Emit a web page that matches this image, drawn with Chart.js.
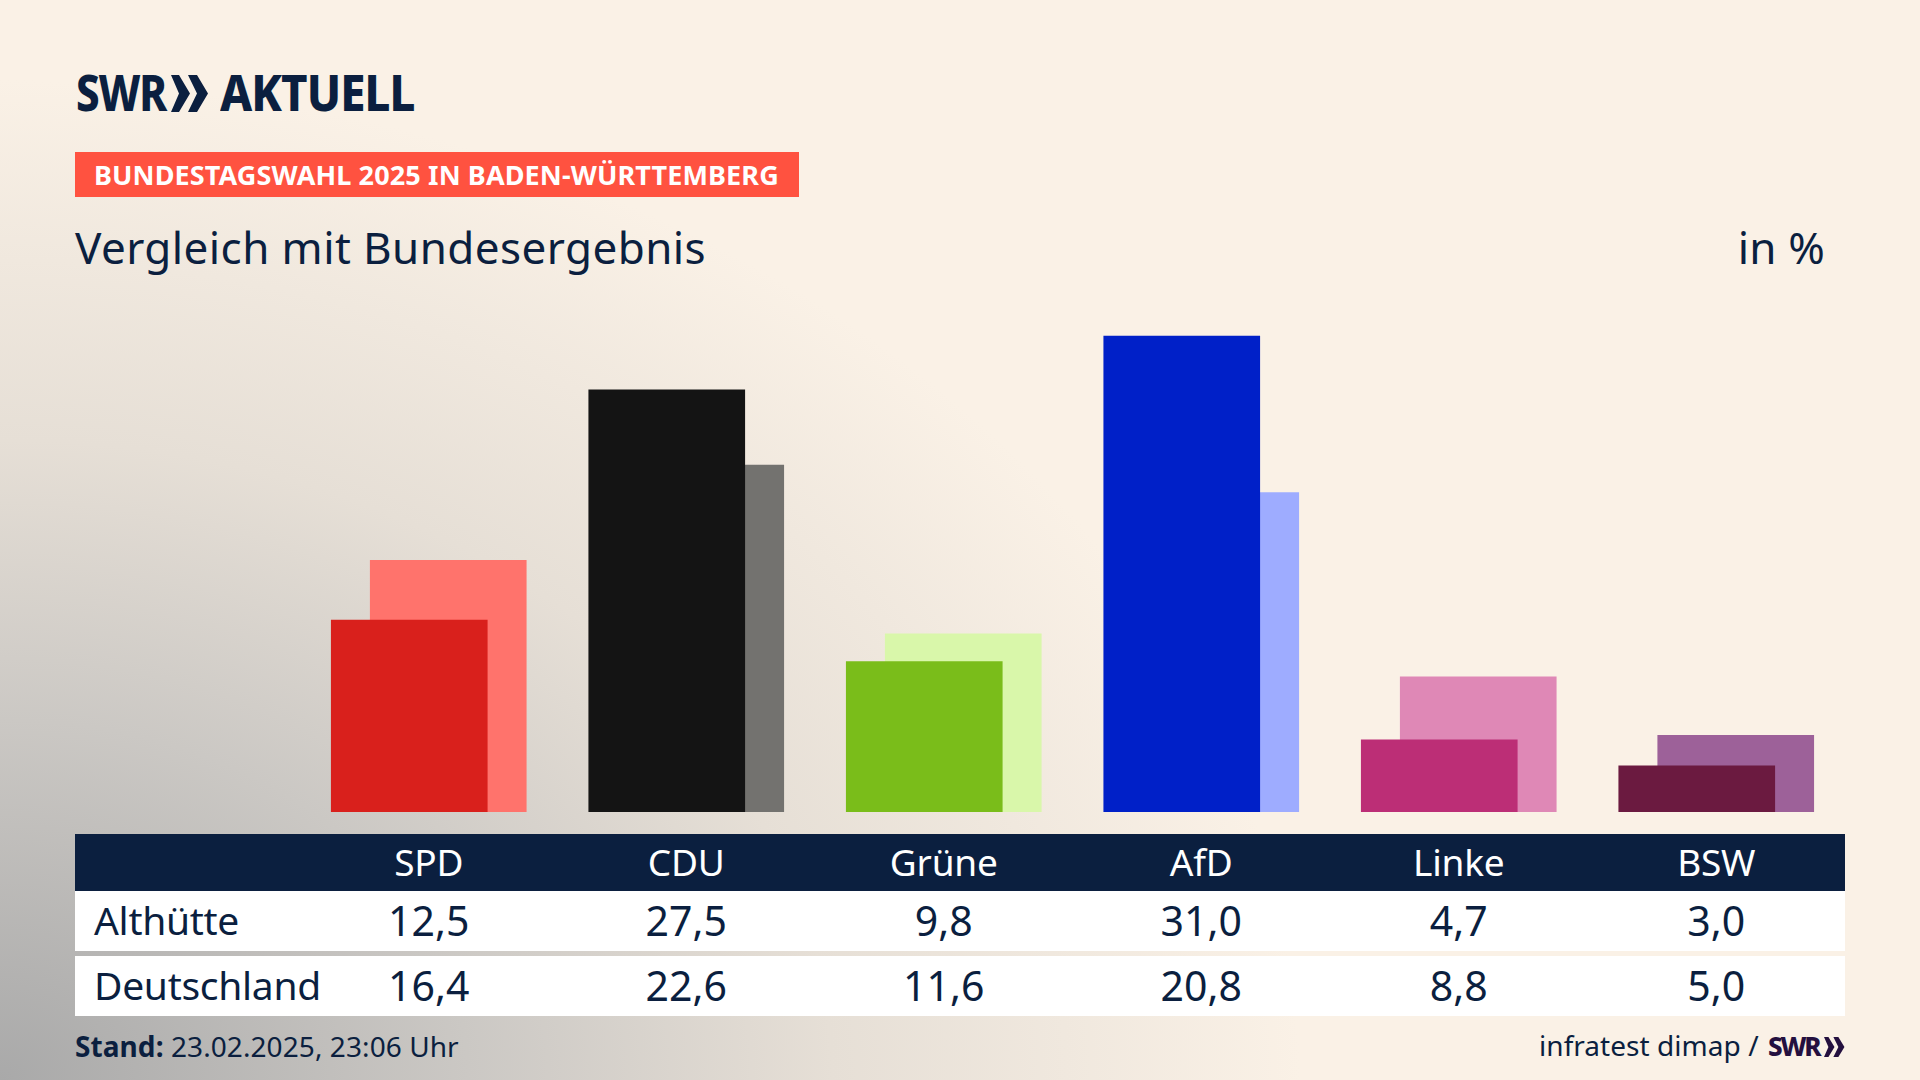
<!DOCTYPE html>
<html lang="de">
<head>
<meta charset="utf-8">
<title>Vergleich mit Bundesergebnis</title>
<script src="https://cdn.jsdelivr.net/npm/chart.js@4"></script>
<style>
    html, body { margin: 0; padding: 0; }
    body {
        width: 1920px; height: 1080px; overflow: hidden; position: relative;
        font-family: "Noto Sans", sans-serif; color: #0b1f3f;
        background-color: #faf1e6;
        background-image: radial-gradient(ellipse 1300px 1000px at 0 100%, #a9a9a9 0%, #cbc8c4 36%, #e6dfd6 64%, #faf1e6 100%);
    }
    .abs { position: absolute; white-space: nowrap; }
    #logo { left: 76px; top: 60px; font-size: 50px; line-height: 64px; font-weight: 800; letter-spacing: -1.5px;
            transform: scaleX(0.84); transform-origin: left; }
    #chev { left: 171px; top: 75px; }
    #logo2 { left: 220px; top: 60px; font-size: 50px; line-height: 64px; font-weight: 800; letter-spacing: -1px;
             transform: scaleX(0.91); transform-origin: left; }
    #tag { left: 75px; top: 152px; width: 724px; height: 45px; background: #ff5240; color: #fff;
           font-size: 27px; line-height: 45px; font-weight: 700; text-indent: 19px; letter-spacing: 0.12px; }
    #title { left: 75px; top: 217px; font-size: 44px; line-height: 60px; letter-spacing: 0.42px; }
    #unit { right: 95px; top: 217px; font-size: 44px; line-height: 60px; letter-spacing: 0.2px; }
    #chartBox { position: absolute; left: 300px; top: 300px; width: 1545px; height: 512px; }
    .row { position: absolute; left: 75px; width: 1770px; display: grid;
           grid-template-columns: 225px repeat(6, 257.5px); align-items: center; }
    .row div { text-align: center; white-space: nowrap; }
    .row div.name { text-align: left; padding-left: 19px; font-size: 39px; letter-spacing: -0.3px; }
    #head { top: 834px; height: 55px; padding-bottom: 2px; background: #0b1f3f; color: #fff; font-size: 37px; letter-spacing: -0.2px; }
    .val { height: 57px; padding-bottom: 3px; background: #fff; font-size: 41px; letter-spacing: 0.1px; }
    #foot { left: 75px; top: 1026px; font-size: 28px; line-height: 40px; letter-spacing: 0.08px; }
    #src { left: 1539px; top: 1025px; font-size: 28px; line-height: 40px; letter-spacing: 0.05px; }
    #src b { color: #24103f; font-size: 26px; font-weight: 800; letter-spacing: -2.2px; margin-left: 2px; }
    #srcChev { left: 1824px; top: 1037px; }
</style>
</head>
<body>
<div class="abs" id="logo">SWR</div>
<svg class="abs" id="chev" width="38" height="37" viewBox="0 0 38 37" fill="#0b1f3f">
    <polygon points="0,0 8,0 19,18.500 8,37 0,37 8,18.500"></polygon>
    <polygon points="17,0 26,0 37,18.500 26,37 17,37 26,18.500"></polygon>
</svg>
<div class="abs" id="logo2">AKTUELL</div>
<div class="abs" id="tag">BUNDESTAGSWAHL 2025 IN BADEN-WÜRTTEMBERG</div>
<div class="abs" id="title">Vergleich mit Bundesergebnis</div>
<div class="abs" id="unit">in %</div>

<div id="chartBox"><canvas id="voteChart" width="1545" height="512"></canvas></div>

<div class="row" id="head"></div>
<div class="row val" id="rowLocal" style="top:891px"></div>
<div class="row val" id="rowNational" style="top:956px"></div>

<div class="abs" id="foot"><b>Stand:</b> 23.02.2025, 23:06 Uhr</div>
<div class="abs" id="src">infratest dimap / <b>SWR</b></div>
<svg class="abs" id="srcChev" width="21" height="20" viewBox="0 0 38 37" preserveAspectRatio="none" fill="#24103f">
    <polygon points="0,0 8,0 19,18.500 8,37 0,37 8,18.500"></polygon>
    <polygon points="17,0 26,0 37,18.500 26,37 17,37 26,18.500"></polygon>
</svg>

<script>
// ---------------------------------------------------------------------------
// Data
// ---------------------------------------------------------------------------
const parties = ["SPD", "CDU", "Grüne", "AfD", "Linke", "BSW"];
const results = {
    "Althütte":    [12.5, 27.5, 9.8, 31.0, 4.7, 3.0],
    "Deutschland": [16.4, 22.6, 11.6, 20.8, 8.8, 5.0],
};
const frontColors = ["#d9201c", "#141414", "#7abd1a", "#0020c8", "#bc2e76", "#6b1a40"];
const backColors = ["#ff736c", "#73726f", "#d9f7aa", "#9eacff", "#df88b6", "#9d6199"];

// half of the sideways step between the two bars of a party, in category units
const BAR_SHIFT = 0.0757;

const fmtValue = v => v.toFixed(1).replace(".", ",");

// ---------------------------------------------------------------------------
// Table
// ---------------------------------------------------------------------------
function renderTable() {
    let html = "<div></div>";
    for (const p of parties) html += `<div>${p}</div>`;
    document.getElementById("head").innerHTML = html;

    const rows = { rowLocal: "Althütte", rowNational: "Deutschland" };
    for (const [id, name] of Object.entries(rows)) {
        let cells = `<div class="name">${name}</div>`;
        for (const v of results[name]) cells += `<div>${fmtValue(v)}</div>`;
        document.getElementById(id).innerHTML = cells;
    }
}

// ---------------------------------------------------------------------------
// Chart
// ---------------------------------------------------------------------------
function renderChart() {
    new Chart(document.getElementById("voteChart"), {
        type: "bar",
        data: {
            datasets: [
                {
                    label: "Althütte",
                    data: results["Althütte"].map((v, i) => ({ x: i - BAR_SHIFT, y: v })),
                    backgroundColor: frontColors,
                    order: 1,
                },
                {
                    label: "Deutschland",
                    data: results["Deutschland"].map((v, i) => ({ x: i + BAR_SHIFT, y: v })),
                    backgroundColor: backColors,
                    order: 2,
                },
            ],
        },
        options: {
            responsive: false,
            animation: false,
            grouped: false,
            barThickness: 156,
            borderWidth: 0,
            layout: { padding: 0 },
            plugins: { legend: { display: false }, tooltip: { enabled: false } },
            scales: {
                x: { type: "linear", min: -0.5, max: 5.5, offset: false, display: false },
                y: { min: 0, max: 33.35, display: false },
            },
        },
    });
}

renderTable();
renderChart();
</script>
</body>
</html>
